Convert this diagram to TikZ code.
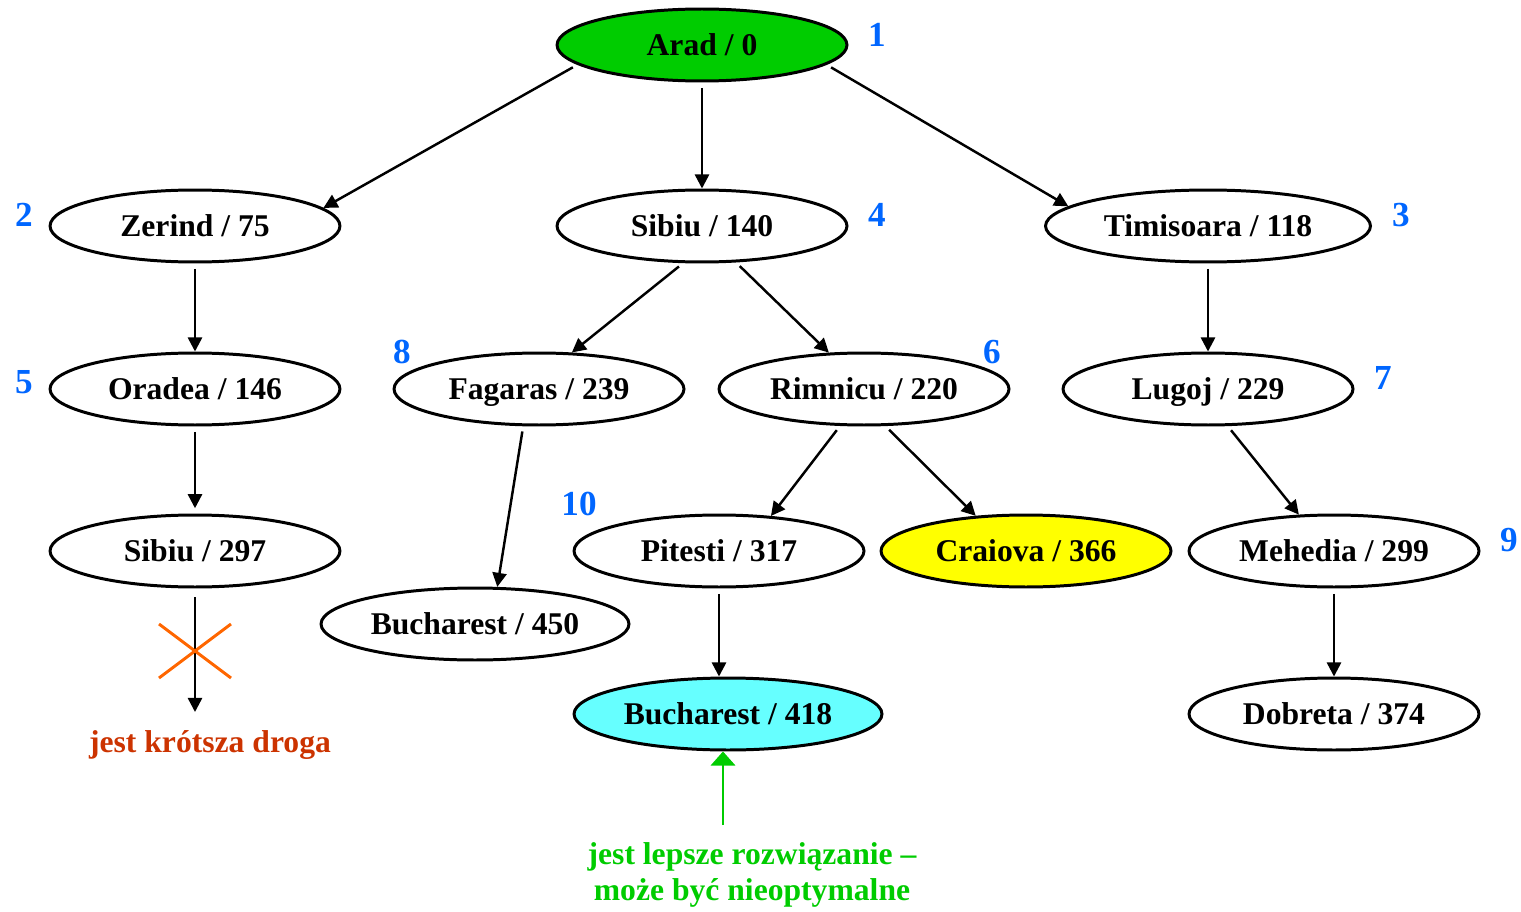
\documentclass[tikz,border=0pt]{standalone}
\usepackage{fontspec}
\setmainfont{Liberation Serif}
\usepackage{tikz}
\usetikzlibrary{shapes.geometric, arrows.meta, positioning, calc}
\definecolor{startcolor}{RGB}{0, 204, 0}
\definecolor{goalcolor}{RGB}{102, 255, 255}
\definecolor{bestcolor}{RGB}{255, 255, 0}
\definecolor{ordercolor}{RGB}{0, 102, 255}
\definecolor{crosscolor}{RGB}{255, 102, 0}
\definecolor{warncolor}{RGB}{204, 51, 0}
\definecolor{hintcolor}{RGB}{0, 204, 0}

\begin{document}
\begin{tikzpicture}[
    x=0.02cm, y=-0.02cm,
    city/.style={draw, ellipse, line width=1.7pt, inner sep=0pt, minimum width=5.8cm, minimum height=1.44cm, text height=12pt, text depth=0pt, font=\fontsize{18}{20.4}\selectfont\bfseries},
    wide/.style={minimum width=6.5cm},
    order/.style={text=ordercolor, font=\fontsize{20}{22}\selectfont\bfseries},
    edge/.style={line width=1.4pt, shorten <=3pt, -{Triangle[length=8pt, width=8pt]}},
]
    \useasboundingbox (0,0) rectangle (1521,912);

    % Level 0
    \node[city, fill=startcolor] (arad) at (702, 45) {Arad / 0};

    % Level 1
    \node[city] (zerind) at (195, 226) {Zerind / 75};
    \node[city] (sibiu) at (702, 226) {Sibiu / 140};
    \node[city, wide] (timisoara) at (1208, 226) {Timisoara / 118};

    % Level 2
    \node[city] (oradea) at (195, 389) {Oradea / 146};
    \node[city] (fagaras) at (539, 389) {Fagaras / 239};
    \node[city] (rimnicu) at (864, 389) {Rimnicu / 220};
    \node[city] (lugoj) at (1208, 389) {Lugoj / 229};

    % Level 3
    \node[city] (sibiub) at (195, 551) {Sibiu / 297};
    \node[city, minimum width=6.16cm] (buchf) at (475, 624) {Bucharest / 450};
    \node[city] (pitesti) at (719, 551) {Pitesti / 317};
    \node[city, fill=bestcolor] (craiova) at (1026, 551) {Craiova / 366};
    \node[city] (mehedia) at (1334, 551) {Mehedia / 299};

    % Level 4
    \node[city, minimum width=6.16cm, fill=goalcolor] (buchp) at (728, 714) {Bucharest / 418};
    \node[city] (dobreta) at (1334, 714) {Dobreta / 374};

    % Expansion order
    \node[order] (n1) at (877, 35) {1};
    \node[order] (n2) at (24, 215) {2};
    \node[order] (n3) at (1401, 215) {3};
    \node[order] (n4) at (877, 215) {4};
    \node[order] (n5) at (24, 382) {5};
    \node[order] (n6) at (992, 352) {6};
    \node[order] (n7) at (1383, 378) {7};
    \node[order] (n8) at (402, 352) {8};
    \node[order] (n9) at (1509, 540) {9};
    \node[order] (n10) at (579, 504) {10};

    % Edges
    \draw[edge] (arad.189) -- (zerind.8);
    \draw[edge] (arad.351) -- (timisoara.172);
    \draw[edge] (arad.south) -- (sibiu.north);
    \draw[edge] (zerind.south) -- (oradea.north);
    \draw[edge] (sibiu.243) -- (fagaras.48);
    \draw[edge] (sibiu.313) -- (rimnicu.134);
    \draw[edge] (timisoara.south) -- (lugoj.north);
    \draw[edge, shorten >=3pt] (oradea.south) -- (sibiub.north);
    \draw[edge] (fagaras.247) -- (buchf.59);
    \draw[edge] (rimnicu.237) -- (pitesti.34);
    \draw[edge] (rimnicu.300) -- (craiova.145);
    \draw[edge] (lugoj.298) -- (mehedia.134);
    \draw[edge] (pitesti.south) -- (pitesti.south |- buchp.north);
    \draw[edge] (mehedia.south) -- (dobreta.north);

    % Pruned branch
    \coordinate (cut) at (195, 712);
    \draw[edge, shorten <=5pt] (sibiub.south) -- (cut);
    \draw[crosscolor, line width=1.7pt] (159, 624) -- (231, 678) (159, 678) -- (231, 624);
    \node[text=warncolor, font=\fontsize{18}{20.4}\selectfont\bfseries] (shorter) at (210, 745) {jest krótsza droga};

    % Note on the goal
    \node[text=hintcolor, font=\fontsize{18}{20.4}\selectfont\bfseries, align=center] (better) at (752, 875) {jest lepsze rozwiązanie –\\może być nieoptymalne};
    \coordinate (hint) at (723, 825);
    \draw[hintcolor, line width=0.8pt, -{Triangle[length=8pt, width=14pt]}] (hint) -- (hint |- buchp.south);

\end{tikzpicture}
\end{document}
